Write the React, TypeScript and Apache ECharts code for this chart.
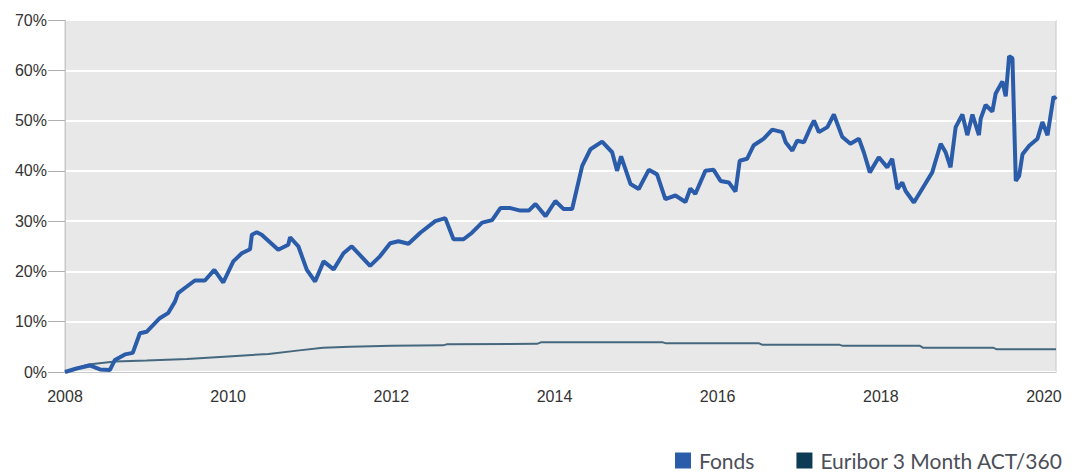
import React, { useEffect, useRef } from "react";
import * as echarts from "echarts";

const fondsDates = [
  "2008-01-01", "2008-02-22", "2008-04-21", "2008-06-06", "2008-07-20", "2008-08-12", "2008-09-26", "2008-10-31",
  "2008-12-02", "2009-01-01", "2009-03-01", "2009-04-07", "2009-05-08", "2009-05-22", "2009-06-21", "2009-08-05",
  "2009-09-19", "2009-10-31", "2009-12-10", "2010-01-24", "2010-03-03", "2010-04-09", "2010-04-17", "2010-05-09",
  "2010-05-31", "2010-08-13", "2010-09-27", "2010-10-05", "2010-11-11", "2010-12-19", "2011-01-25", "2011-03-04",
  "2011-04-18", "2011-06-01", "2011-07-08", "2011-09-28", "2011-11-11", "2011-12-27", "2012-02-02", "2012-03-18",
  "2012-05-10", "2012-07-16", "2012-08-30", "2012-10-06", "2012-11-20", "2012-12-28", "2013-02-11", "2013-03-28",
  "2013-05-04", "2013-06-18", "2013-08-01", "2013-09-08", "2013-10-08", "2013-11-22", "2014-01-05", "2014-02-11",
  "2014-03-21", "2014-05-05", "2014-06-11", "2014-08-02", "2014-09-16", "2014-10-08", "2014-10-26", "2014-12-07",
  "2015-01-13", "2015-02-27", "2015-04-05", "2015-05-12", "2015-06-26", "2015-08-10", "2015-09-01", "2015-09-23",
  "2015-11-07", "2015-12-14", "2016-01-14", "2016-02-20", "2016-03-21", "2016-04-09", "2016-05-12", "2016-06-11",
  "2016-07-26", "2016-09-02", "2016-10-17", "2016-11-01", "2016-12-01", "2016-12-23", "2017-01-22", "2017-02-21",
  "2017-03-08", "2017-03-30", "2017-05-07", "2017-06-05", "2017-07-12", "2017-08-18", "2017-09-25", "2017-10-17",
  "2017-11-13", "2017-12-23", "2018-01-30", "2018-02-21", "2018-03-16", "2018-04-07", "2018-04-22", "2018-05-29",
  "2018-07-13", "2018-08-19", "2018-09-26", "2018-10-18", "2018-11-09", "2018-12-02", "2019-01-01", "2019-01-23",
  "2019-02-15", "2019-03-16", "2019-03-24", "2019-04-15", "2019-05-15", "2019-05-30", "2019-06-29", "2019-07-14",
  "2019-07-29", "2019-08-13", "2019-08-28", "2019-09-12", "2019-09-27", "2019-10-27", "2019-12-03", "2019-12-25",
  "2020-01-17", "2020-02-13", "2020-02-24",
];

const fondsValues = [
  0.0, 0.7, 1.3, 0.5, 0.4, 2.4, 3.5, 3.8,
  7.7, 8.0, 10.7, 11.7, 14.0, 15.7, 16.7, 18.2,
  18.2, 20.3, 17.8, 22.0, 23.6, 24.4, 27.3, 27.8,
  27.3, 24.3, 25.3, 26.8, 25.0, 20.3, 18.0, 22.0,
  20.4, 23.6, 25.0, 21.1, 23.0, 25.6, 26.0, 25.5,
  27.7, 30.0, 30.6, 26.4, 26.4, 27.7, 29.7, 30.2,
  32.6, 32.6, 32.1, 32.1, 33.4, 31.0, 34.0, 32.4,
  32.4, 41.0, 44.3, 45.8, 43.7, 40.0, 42.9, 37.4,
  36.4, 40.2, 39.3, 34.4, 35.1, 33.8, 36.5, 35.4,
  40.0, 40.2, 38.0, 37.7, 35.9, 42.0, 42.4, 45.1,
  46.4, 48.2, 47.7, 45.7, 44.0, 46.0, 45.7, 48.7,
  50.0, 47.7, 48.7, 51.2, 46.8, 45.4, 46.4, 43.7,
  39.7, 42.7, 40.7, 42.4, 36.4, 37.7, 36.0, 33.7,
  37.0, 39.7, 45.4, 43.7, 40.7, 48.7, 51.2, 47.1,
  51.2, 47.1, 50.4, 53.1, 51.8, 55.4, 57.8, 54.8,
  62.8, 62.4, 38.0, 39.0, 43.3, 45.0, 46.4, 49.7,
  47.1, 54.8, 54.2,
];

const euriborDates = [
  "2008-01-01", "2008-04-15", "2008-08-12", "2009-01-01", "2009-07-01", "2010-01-01", "2010-07-01", "2010-11-15",
  "2011-03-01", "2011-07-01", "2012-01-01", "2012-08-20", "2012-09-05", "2013-10-15", "2013-11-01", "2015-05-01",
  "2015-05-15", "2016-07-05", "2016-07-20", "2017-07-01", "2017-07-15", "2018-06-25", "2018-07-10", "2019-05-20",
  "2019-06-05", "2020-02-24",
];

const euriborValues = [
  0.0, 1.5, 2.1, 2.3, 2.6, 3.1, 3.6, 4.3,
  4.8, 5.0, 5.2, 5.3, 5.5, 5.6, 5.9, 5.9,
  5.7, 5.7, 5.4, 5.4, 5.2, 5.2, 4.8, 4.8,
  4.5, 4.5,
];

const yTicks = [0, 10, 20, 30, 40, 50, 60, 70];
const xStartYear = 2008;
const xEndDate = "2020-02-24";

function toYear(s: string): number {
  const d = Date.parse(s + "T00:00:00Z");
  const y = new Date(d).getUTCFullYear();
  const a = Date.UTC(y, 0, 1);
  const b = Date.UTC(y + 1, 0, 1);
  return y + (d - a) / (b - a);
}

export default function App() {
  const ref = useRef<HTMLDivElement>(null);
  useEffect(() => {
    if (!ref.current) return;
    const chart = echarts.init(ref.current, undefined, { renderer: "svg" });
    const axisFont = { fontFamily: "Liberation Sans", fontSize: 16, color: "#333333" };
    chart.setOption({
      animation: false,
      backgroundColor: "#ffffff",
      grid: {
        left: 65,
        right: 24,
        top: 20,
        bottom: 100,
        show: true,
        backgroundColor: "#e8e8e8",
        borderColor: "#c8c8c8",
        borderWidth: 1,
      },
      legend: {
        right: 12,
        top: 445,
        itemWidth: 16,
        itemHeight: 16,
        itemGap: 42,
        icon: "rect",
        textStyle: {
          fontFamily: "Lato",
          fontSize: 21,
          lineHeight: 18,
          color: "#4b4f58",
          padding: [0, 0, 0, 3],
        },
        data: ["Fonds", "Euribor 3 Month ACT/360"],
      },
      xAxis: {
        type: "value",
        min: xStartYear,
        max: toYear(xEndDate),
        interval: 2,
        axisLine: { show: true, lineStyle: { color: "#c8c8c8" } },
        axisTick: { show: false },
        splitLine: { show: false },
        axisLabel: {
          ...axisFont,
          margin: 16,
          showMaxLabel: false,
          formatter: (v: number) => (Math.abs(v - Math.round(v)) < 1e-6 ? String(Math.round(v)) : ""),
        },
      },
      yAxis: {
        type: "value",
        min: yTicks[0],
        max: yTicks[yTicks.length - 1],
        interval: 10,
        axisLine: { show: true, lineStyle: { color: "#c8c8c8" } },
        axisTick: { show: true, length: 17, lineStyle: { color: "#b0b0b0" } },
        splitLine: { show: true, lineStyle: { color: "#ffffff", width: 2 } },
        axisLabel: { ...axisFont, margin: 18, formatter: "{value}%" },
      },
      series: [
        {
          name: "Euribor 3 Month ACT/360",
          type: "line",
          showSymbol: false,
          symbol: "none",
          itemStyle: { color: "#0d3a55" },
          lineStyle: { color: "#45687e", width: 2 },
          data: euriborDates.map((d, i) => [toYear(d), euriborValues[i]]),
          z: 2,
        },
        {
          name: "Fonds",
          type: "line",
          showSymbol: false,
          symbol: "none",
          itemStyle: { color: "#2a5caa" },
          lineStyle: { color: "#2a5caa", width: 4 },
          data: fondsDates.map((d, i) => [toYear(d), fondsValues[i]]),
          z: 3,
        },
      ],
    });
    return () => chart.dispose();
  }, []);
  return (
    <div
      ref={ref}
      style={{ position: "fixed", left: 0, top: 0, width: 1080, height: 472, background: "#fff" }}
    />
  );
}
